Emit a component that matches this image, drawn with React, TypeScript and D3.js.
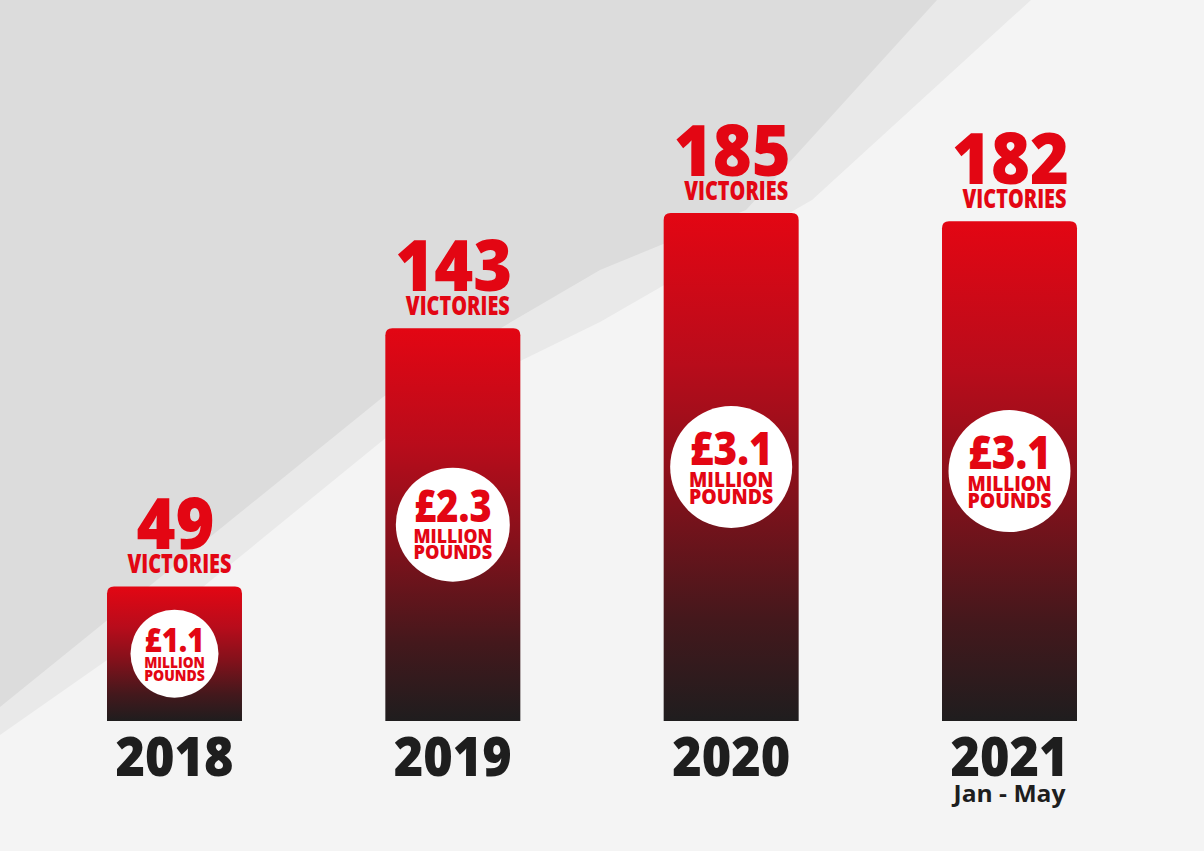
import React from "react";
import * as d3 from "d3";

const years = ["2018", "2019", "2020", "2021"];
const victories = [49, 143, 185, 182];
const millions = [1.1, 2.3, 3.1, 3.1];
const yearNotes = ["", "", "", "Jan - May"];

const W = 1204;
const H = 851;
const base = 721;
const FONT = "'Open Sans', 'Liberation Sans Narrow', sans-serif";
const RED = "#e30613";

function barPath(x: number, y: number, w: number, h: number, r: number) {
  const p = d3.path();
  p.moveTo(x, y + h);
  p.lineTo(x, y + r);
  p.quadraticCurveTo(x, y, x + r, y);
  p.lineTo(x + w - r, y);
  p.quadraticCurveTo(x + w, y, x + w, y + r);
  p.lineTo(x + w, y + h);
  p.closePath();
  return p.toString();
}

export default function App() {
  const x = d3.scaleBand<string>().domain(years).range([107, 1077]).paddingInner(0.515).paddingOuter(0);
  const y = d3.scaleLinear().domain([0, 185]).range([base, 213]);
  const rScale = d3.scaleLinear().domain([1.1, 2.3, 3.1]).range([44, 57, 61]);
  const bw = x.bandwidth();

  const darkArea = "M0,0 L937,0 L746,210 L600,270 L383,397 L0,707 Z";
  const bandArea = "M0,0 L1031,0 L812,200 L600,322 L420,410 L150,630 L0,735 Z";

  return (
    <svg width={W} height={H} style={{ position: "absolute", left: 0, top: 0, display: "block" }}>
      <defs>
        <linearGradient id="barGrad" x1="0" y1="0" x2="0" y2="1">
          <stop offset="0%" stopColor="#e30613" />
          <stop offset="30%" stopColor="#b80c1b" />
          <stop offset="55%" stopColor="#83111b" />
          <stop offset="80%" stopColor="#44181c" />
          <stop offset="100%" stopColor="#1f1d1e" />
        </linearGradient>
      </defs>
      <rect width={W} height={H} fill="#f4f4f4" />
      <path d={bandArea} fill="#e9e9e9" />
      <path d={darkArea} fill="#dcdcdc" />

      {years.map((yr, i) => {
        const bx = x(yr) as number;
        const cx = bx + bw / 2;
        const top = y(victories[i]);
        const r = rScale(millions[i]);
        const cy = (top + base) / 2;
        const numLabel = String(victories[i]);
        return (
          <g key={yr}>
            <path d={barPath(bx, top, bw, base - top, 7)} fill="url(#barGrad)" />
            <text
              x={cx + 1}
              y={top - 37}
              textAnchor="middle"
              fontFamily={FONT}
              fontWeight={800}
              fontSize={71}
              fill={RED}
              textLength={39 * numLabel.length}
              lengthAdjust="spacingAndGlyphs"
            >
              {numLabel}
            </text>
            <text
              x={cx + 5}
              y={top - 13}
              textAnchor="middle"
              fontFamily={FONT}
              fontWeight={800}
              fontSize={26}
              fill={RED}
              textLength={104}
              lengthAdjust="spacingAndGlyphs"
            >
              VICTORIES
            </text>
            <circle cx={cx} cy={cy} r={r} fill="#ffffff" />
            <text
              x={cx}
              y={cy - 0.04 * r}
              textAnchor="middle"
              fontFamily={FONT}
              fontWeight={800}
              fontSize={0.76 * r}
              fill={RED}
              textLength={1.36 * r}
              lengthAdjust="spacingAndGlyphs"
            >
              {"£" + millions[i].toFixed(1)}
            </text>
            <text
              x={cx}
              y={cy + 0.33 * r}
              textAnchor="middle"
              fontFamily={FONT}
              fontWeight={800}
              fontSize={0.35 * r}
              fill={RED}
              textLength={1.38 * r}
              lengthAdjust="spacingAndGlyphs"
            >
              MILLION
            </text>
            <text
              x={cx}
              y={cy + 0.61 * r}
              textAnchor="middle"
              fontFamily={FONT}
              fontWeight={800}
              fontSize={0.35 * r}
              fill={RED}
              textLength={1.38 * r}
              lengthAdjust="spacingAndGlyphs"
            >
              POUNDS
            </text>
            <text
              x={cx}
              y={776}
              textAnchor="middle"
              fontFamily={FONT}
              fontWeight={800}
              fontSize={54}
              fill="#1e1e1e"
              textLength={118}
              lengthAdjust="spacingAndGlyphs"
            >
              {yr}
            </text>
            {yearNotes[i] && (
              <text
                x={cx}
                y={802}
                textAnchor="middle"
                fontFamily={FONT}
                fontWeight={700}
                fontSize={24}
                fill="#1e1e1e"
                textLength={112}
                lengthAdjust="spacingAndGlyphs"
              >
                {yearNotes[i]}
              </text>
            )}
          </g>
        );
      })}
    </svg>
  );
}
